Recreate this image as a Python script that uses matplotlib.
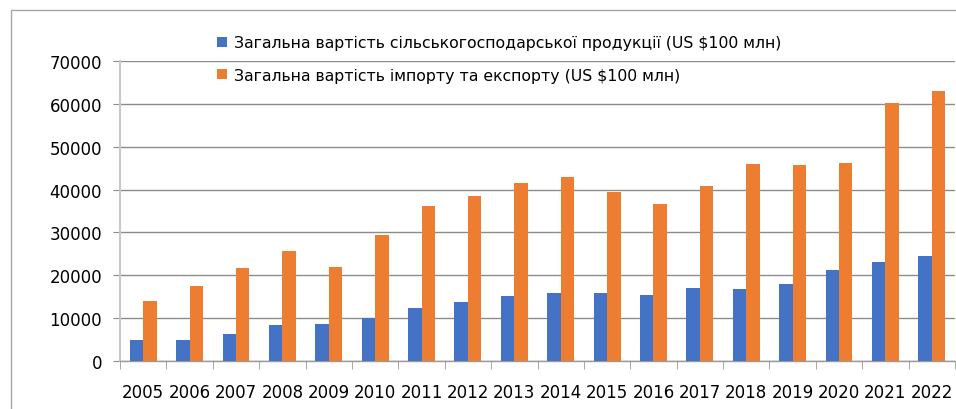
import numpy as np
import matplotlib
matplotlib.use("Agg")
import matplotlib.pyplot as plt
from matplotlib.patches import Rectangle

# Data
years = ["2005", "2006", "2007", "2008", "2009", "2010", "2011", "2012", "2013",
         "2014", "2015", "2016", "2017", "2018", "2019", "2020", "2021", "2022"]
agri_value = [4800, 5000, 6400, 8300, 8750, 10000, 12300, 13700, 15100,
              15800, 15800, 15300, 17000, 16700, 17900, 21200, 23100, 24400]
trade_value = [14000, 17500, 21600, 25600, 21900, 29300, 36200, 38500, 41500,
               42900, 39500, 36700, 40800, 45900, 45700, 46200, 60300, 62900]
label_agri = "Загальна вартість сільськогосподарської продукції (US $100 млн)"
label_trade = "Загальна вартість імпорту та експорту (US $100 млн)"
yticks = [0, 10000, 20000, 30000, 40000, 50000, 60000, 70000]

blue = "#4472C4"
orange = "#ED7D31"

plt.rcParams['font.family'] = ['DejaVu Sans']

fig = plt.figure(figsize=(9.56, 4.10), dpi=100)
ax = fig.add_axes([120 / 956, 1 - 362 / 410, 835 / 956, 300 / 410])

x = np.arange(len(years))
w = 0.29
ax.bar(x - w / 2, agri_value, width=w, color=blue, label=label_agri, zorder=3)
ax.bar(x + w / 2, trade_value, width=w, color=orange, label=label_trade, zorder=3)

ax.set_xlim(-0.5, len(years) - 0.5)
ax.set_ylim(0, 70000)
ax.set_yticks(yticks)
ax.set_yticklabels([str(v) for v in yticks])
ax.set_xticks(x)
ax.set_xticklabels(years)
ax.set_xticks(np.arange(len(years) + 1) - 0.5, minor=True)

ax.grid(axis="y", color="#8c8c8c", linewidth=1, zorder=0)
for s in ["top", "right"]:
    ax.spines[s].set_visible(False)
ax.spines["left"].set_color("#c8c8c8")
ax.spines["left"].set_linewidth(1.5)
ax.spines["bottom"].set_color("#9a9a9a")
ax.spines["bottom"].set_linewidth(1)

ax.tick_params(axis="y", length=5, color="#8c8c8c", pad=8, labelsize=12)
ax.tick_params(axis="x", which="major", length=0, pad=16, labelsize=12)
ax.tick_params(axis="x", which="minor", length=6, color="#9a9a9a")

leg = fig.legend(loc="upper left", bbox_to_anchor=(211 / 956, 1 - 30 / 410),
                 frameon=False, handlelength=0.65, handleheight=0.65,
                 handletextpad=0.4, labelspacing=1.1, borderaxespad=0,
                 prop={'family': 'DejaVu Sans', 'size': 11.3})

# outer chart frame (left and top edges visible)
fig.patches.append(Rectangle((10.5 / 956, -0.5), 2.0, 0.5 + (1 - 11 / 410),
                             transform=fig.transFigure, fill=False,
                             edgecolor="#a6a6a6", linewidth=1))

fig.savefig("out.png", dpi=100)
